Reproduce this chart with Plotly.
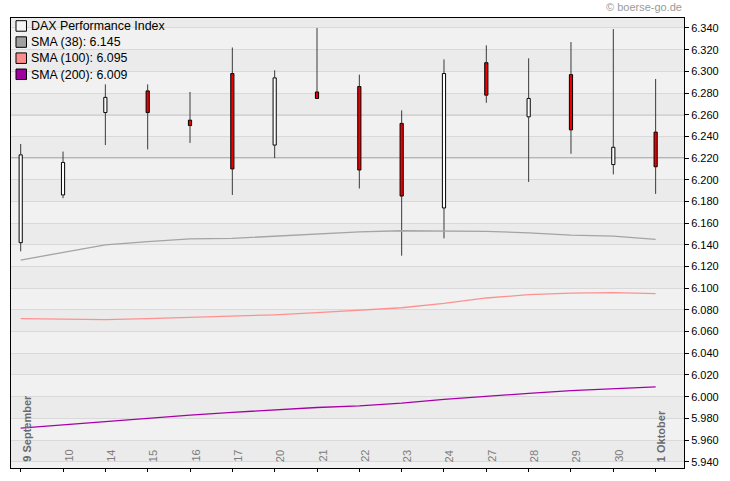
import plotly.graph_objects as go

# ---------------- data ----------------
day_labels = ["9 September", "10", "14", "15", "16", "17", "20", "21", "22",
              "23", "24", "27", "28", "29", "30", "1 Oktober"]
month_start = [True, False, False, False, False, False, False, False, False,
               False, False, False, False, False, False, True]
open_ = [6142, 6186, 6262, 6282, 6255, 6298, 6232, 6281, 6286, 6252, 6174, 6308, 6258, 6297, 6214, 6244]
high = [6233, 6226, 6288, 6288, 6281, 6322, 6301, 6340, 6297, 6264, 6311, 6324, 6312, 6327, 6339, 6293]
low = [6134, 6183, 6232, 6228, 6234, 6186, 6220, 6275, 6192, 6130, 6146, 6271, 6198, 6224, 6205, 6187]
close = [6223, 6216, 6276, 6262, 6250, 6210, 6294, 6275, 6209, 6185, 6298, 6278, 6275, 6246, 6230, 6212]
sma38 = [6126, 6133, 6140, 6143, 6145.5, 6146, 6148, 6150, 6152, 6153, 6153, 6152.5, 6151, 6149, 6148, 6145]
sma100 = [6072, 6071.5, 6071, 6072, 6073, 6074, 6075.5, 6077.5, 6080, 6082, 6086, 6091, 6094, 6095.5, 6096, 6095]
sma200 = [5971, 5974, 5977, 5980.5, 5983, 5985.5, 5988, 5990, 5991.5, 5994, 5997.5, 6000.5, 6003, 6005.5, 6007, 6009]
level_lines = [6260, 6220]
series_names = ["DAX Performance Index", "SMA (38)", "SMA (100)", "SMA (200)"]

# ---------------- geometry / style ----------------
W, H = 730, 481
PL, PR, PT, PB = 11, 684.5, 18.3, 468  # plot area in px
Y0, Y1 = 5934.2, 6349.2
FONT = "Arial, Liberation Sans, sans-serif"

def fmt(v):
    return f"{v:,.0f}".replace(",", ".")

x = list(range(len(day_labels)))
fig = go.Figure()

# bodies (bars are drawn under scatter lines)
base = [min(o, c) for o, c in zip(open_, close)]
top = [max(o, c) for o, c in zip(open_, close)]
size = [t - b for b, t in zip(base, top)]
cols = ["#ffffff" if c >= o else "#ee0000" for o, c in zip(open_, close)]
fig.add_trace(go.Bar(x=x, y=size, base=base, width=0.075,
                     marker=dict(color=cols, line=dict(color="#000000", width=1)),
                     hoverinfo="skip"))

# wicks, split around the body
wx, wy = [], []
for i in x:
    wx += [i, i, None, i, i, None]
    wy += [low[i], base[i], None, top[i], high[i], None]
fig.add_trace(go.Scatter(x=wx, y=wy, mode="lines", line=dict(color="#3a3a3a", width=1),
                         hoverinfo="skip"))

# SMAs
fig.add_trace(go.Scatter(x=x, y=sma38, mode="lines", line=dict(color="#a4a4a4", width=1.3)))
fig.add_trace(go.Scatter(x=x, y=sma100, mode="lines", line=dict(color="#ff9090", width=1.3)))
fig.add_trace(go.Scatter(x=x, y=sma200, mode="lines", line=dict(color="#a800a8", width=1.3)))

shapes = []
# alternating bands
v = 5920
while v < 6360:
    idx = (v - 5940) // 20
    shapes.append(dict(type="rect", xref="paper", x0=0, x1=1, yref="y", y0=v, y1=v + 20,
                       fillcolor="#ebebeb" if idx % 2 == 0 else "#f1f1f1",
                       line=dict(width=0), layer="below"))
    v += 20
# level lines
for lv in level_lines:
    shapes.append(dict(type="line", xref="paper", x0=0, x1=1, yref="y", y0=lv, y1=lv,
                       line=dict(color="#5a5ad8", width=1), layer="between"))

# legend (manual)
pw, ph = PR - PL, PB - PT
def px_x(p):
    return (p - PL) / pw
def px_y(p):
    return (PB - p) / ph

sw_cols = ["#f4f4f4", "#a0a0a0", "#ff8c8c", "#a000a0"]
last_vals = [None, sma38[-1], sma100[-1], sma200[-1]]
annotations = []
for k, name in enumerate(series_names):
    cy = 26.5 + 16.1 * k
    shapes.append(dict(type="rect", xref="paper", yref="paper",
                       x0=px_x(16), x1=px_x(26.5), y0=px_y(cy + 5), y1=px_y(cy - 5.5),
                       fillcolor=sw_cols[k], line=dict(color="#000000", width=1), layer="above"))
    label = name if last_vals[k] is None else f"{name}: {fmt(last_vals[k])}"
    annotations.append(dict(text=label, xref="paper", yref="paper", x=px_x(29.5), y=px_y(cy),
                            xanchor="left", yanchor="middle", showarrow=False,
                            font=dict(family=FONT, size=12.4, color="#000000")))

# x tick labels (inside the plot, rotated)
for i, lab in enumerate(day_labels):
    annotations.append(dict(text=f"<b>{lab}</b>" if month_start[i] else lab,
                            xref="x", yref="paper", x=i, y=0, xanchor="center", yanchor="bottom",
                            textangle=-90, xshift=5.5, yshift=4, showarrow=False,
                            font=dict(family=FONT, size=11,
                                      color="#6a6a6a" if month_start[i] else "#7c7c7c")))

annotations.append(dict(text="© boerse-go.de", xref="paper", yref="paper", x=1, y=px_y(7.5),
                        xanchor="right", yanchor="middle", showarrow=False,
                        font=dict(family=FONT, size=11, color="#9a9a9a")))

fig.update_layout(
    width=W, height=H,
    margin=dict(l=PL, r=W - PR, t=PT, b=H - PB, pad=0),
    paper_bgcolor="#ffffff", plot_bgcolor="#f0f0f0",
    showlegend=False, separators=",.", barmode="overlay",
    shapes=shapes, annotations=annotations,
    xaxis=dict(range=[-0.229, 15.67], tickmode="array", tickvals=x, showticklabels=False,
               ticks="outside", ticklen=3, tickcolor="#000000", showgrid=False, zeroline=False,
               showline=True, mirror=True, linecolor="#000000", linewidth=1),
    yaxis=dict(range=[Y0, Y1], side="right", tick0=5940, dtick=20, tickformat=",.0f",
               ticks="outside", ticklen=4, tickcolor="#000000", showgrid=True,
               gridcolor="#d9d9d9", gridwidth=1, zeroline=False, showline=True, mirror=True,
               linecolor="#000000", linewidth=1,
               tickfont=dict(family=FONT, size=11, color="#000000")),
)

fig.write_html("out.html", config={"displayModeBar": False},
               post_script="document.body.style.margin='0';document.body.style.padding='0';")
